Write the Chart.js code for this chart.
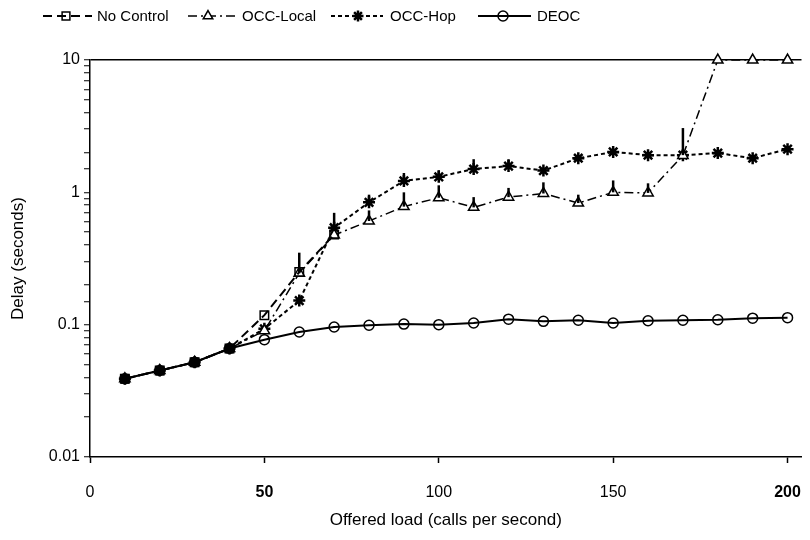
<!DOCTYPE html>
<html>
<head>
<meta charset="utf-8">
<script src="https://cdn.jsdelivr.net/npm/chart.js@4.4.1/dist/chart.umd.min.js"></script>
<style>
html,body{margin:0;padding:0;background:#fff;}
#wrap{width:810px;height:540px;position:relative;}
</style>
</head>
<body>
<div id="wrap"><canvas id="c" width="810" height="540"></canvas></div>
<script>
const loads = [10,20,30,40,50,60,70,80,90,100,110,120,130,140,150,160,170,180,190,200];
const noControl = [0.039,0.045,0.052,0.066,0.118,0.25,0.48,null,null,null,null,null,null,null,null,null,null,null,null,null];
const occLocal = [0.039,0.045,0.052,0.066,0.09,0.245,0.475,0.607,0.78,0.91,0.77,0.92,0.98,0.83,1.0,0.99,1.9,10,10,10];
const occHop = [0.039,0.045,0.052,0.066,0.093,0.152,0.54,0.84,1.22,1.31,1.5,1.58,1.46,1.81,2.02,1.91,1.91,1.98,1.81,2.12];
const deoc = [0.039,0.045,0.052,0.066,0.077,0.088,0.096,0.099,0.101,0.100,0.103,0.110,0.106,0.108,0.103,0.107,0.108,0.109,0.112,0.113];
// upper ends of error bars
const occLocalErrTop = [null,null,null,null,null,0.35,null,0.73,1.0,1.13,0.92,1.08,1.19,0.96,1.23,1.17,null,null,null,null];
const occHopErrTop = [null,null,null,null,null,null,0.70,0.96,1.40,1.47,1.78,1.78,null,null,null,null,3.06,null,null,null];
const yTickLabels = [0.01,0.1,1,10];
const xTickLabels = [0,50,100,150,200];
const legendNames = ['No Control','OCC-Local','OCC-Hop','DEOC'];

const FONT = "'Liberation Sans', Arial, sans-serif";
const pts = arr => loads.map((x,i)=>({x:x,y:arr[i]}));

const errBarPlugin = {
  id:'errBars',
  afterDatasetsDraw(chart){
    const ctx = chart.ctx, xs = chart.scales.x, ys = chart.scales.y;
    const sets = [[occLocal,occLocalErrTop],[occHop,occHopErrTop]];
    ctx.save();
    ctx.strokeStyle='#000'; ctx.lineWidth=2.5;
    sets.forEach(([vals,tops])=>{
      loads.forEach((x,i)=>{
        if(tops[i]==null||vals[i]==null) return;
        const px = xs.getPixelForValue(x);
        ctx.beginPath();
        ctx.moveTo(px, ys.getPixelForValue(vals[i]));
        ctx.lineTo(px, ys.getPixelForValue(tops[i]));
        ctx.stroke();
      });
    });
    ctx.restore();
  }
};

const legendPlugin = {
  id:'customLegend',
  afterDraw(chart){
    const ctx = chart.ctx;
    const items = [
      {x0:43,x1:92,mx:66,tx:97},
      {x0:188,x1:236,mx:208,tx:242},
      {x0:331,x1:383,mx:358,tx:390},
      {x0:478,x1:531,mx:503,tx:537}
    ];
    const y = 16;
    ctx.save();
    chart.data.datasets.forEach((ds,i)=>{
      const it = items[i];
      ctx.strokeStyle='#000';
      ctx.lineWidth = ds.borderWidth;
      ctx.setLineDash(ds.borderDash||[]);
      ctx.beginPath(); ctx.moveTo(it.x0,y); ctx.lineTo(it.x1,y); ctx.stroke();
      ctx.setLineDash([]);
      ctx.lineWidth = ds.pointBorderWidth;
      ctx.fillStyle = (ds.legendFill||'rgba(0,0,0,0)');
      Chart.helpers.drawPoint(ctx,{pointStyle:ds.pointStyle,radius:Math.min(ds.pointRadius,5.5),rotation:0,borderWidth:ds.pointBorderWidth},it.mx,y);
      ctx.fillStyle='#000';
      ctx.font = "15px "+FONT;
      ctx.textBaseline='middle';
      ctx.textAlign='left';
      ctx.fillText(legendNames[i], it.tx, y+1);
    });
    ctx.restore();
  }
};

new Chart(document.getElementById('c'),{
  type:'line',
  data:{
    datasets:[
      {label:legendNames[0],data:pts(noControl),borderColor:'#000',borderWidth:2,borderDash:[9,5],clip:false,
       pointStyle:'rect',pointRadius:6,pointBorderWidth:1.5,pointBorderColor:'#000',
       pointBackgroundColor:loads.map(x=>x<50?'#000':'rgba(0,0,0,0)'),legendFill:'rgba(0,0,0,0)',fill:false,tension:0},
      {label:legendNames[1],data:pts(occLocal),borderColor:'#000',borderWidth:1.5,borderDash:[9,4,2,4],clip:false,
       pointStyle:'triangle',pointRadius:6,pointBorderWidth:1.5,pointBorderColor:'#000',
       pointBackgroundColor:'#fff',legendFill:'#fff',fill:false,tension:0},
      {label:legendNames[2],data:pts(occHop),borderColor:'#000',borderWidth:2,borderDash:[4,3],clip:false,
       pointStyle:'star',pointRadius:6,pointBorderWidth:2.5,pointBorderColor:'#000',
       pointBackgroundColor:'#000',fill:false,tension:0},
      {label:legendNames[3],data:pts(deoc),borderColor:'#000',borderWidth:2,clip:false,
       pointStyle:'circle',pointRadius:5,pointBorderWidth:1.5,pointBorderColor:'#000',
       pointBackgroundColor:'rgba(0,0,0,0)',fill:false,tension:0}
    ]
  },
  options:{
    responsive:false,
    animation:false,
    events:[],
    layout:{padding:{top:60,right:0,left:0,bottom:0}},
    plugins:{legend:{display:false},tooltip:{enabled:false}},
    scales:{
      x:{
        type:'linear',min:0,max:204,
        afterBuildTicks:s=>{s.ticks = xTickLabels.map(v=>({value:v}));},
        grid:{drawOnChartArea:false,tickLength:6,tickColor:'#000',tickWidth:1.5},
        border:{color:'#000',width:1.5},
        ticks:{color:'#000',padding:20,font:ctx=>({family:FONT,size:16,weight:(ctx.tick&&(ctx.tick.value===50||ctx.tick.value===200))?'bold':'normal'}),maxRotation:0},
        title:{display:true,text:'Offered load (calls per second)',color:'#000',font:{family:FONT,size:17},padding:{top:10,bottom:9}},
        afterFit:s=>{s.height=540-457;s.paddingRight=0;s.paddingLeft=0;}
      },
      y:{
        type:'logarithmic',min:0.01,max:10,
        grid:{drawOnChartArea:true,color:c=>(c.tick&&c.tick.value===10)?'#000':'rgba(0,0,0,0)',lineWidth:1.5,tickLength:6,tickColor:'#000',tickWidth:1},
        border:{color:'#000',width:1.5},
        ticks:{color:'#000',autoSkip:false,padding:4,font:{family:FONT,size:16},
          callback:v=>{const f=yTickLabels.find(t=>Math.abs(t-v)/t<1e-6);return f!==undefined?String(f):'';}},
        title:{display:true,text:'Delay (seconds)',color:'#000',font:{family:FONT,size:17},padding:{top:8,bottom:4}},
        afterFit:s=>{s.width=90;}
      }
    }
  },
  plugins:[errBarPlugin,legendPlugin]
});
</script>
</body>
</html>
